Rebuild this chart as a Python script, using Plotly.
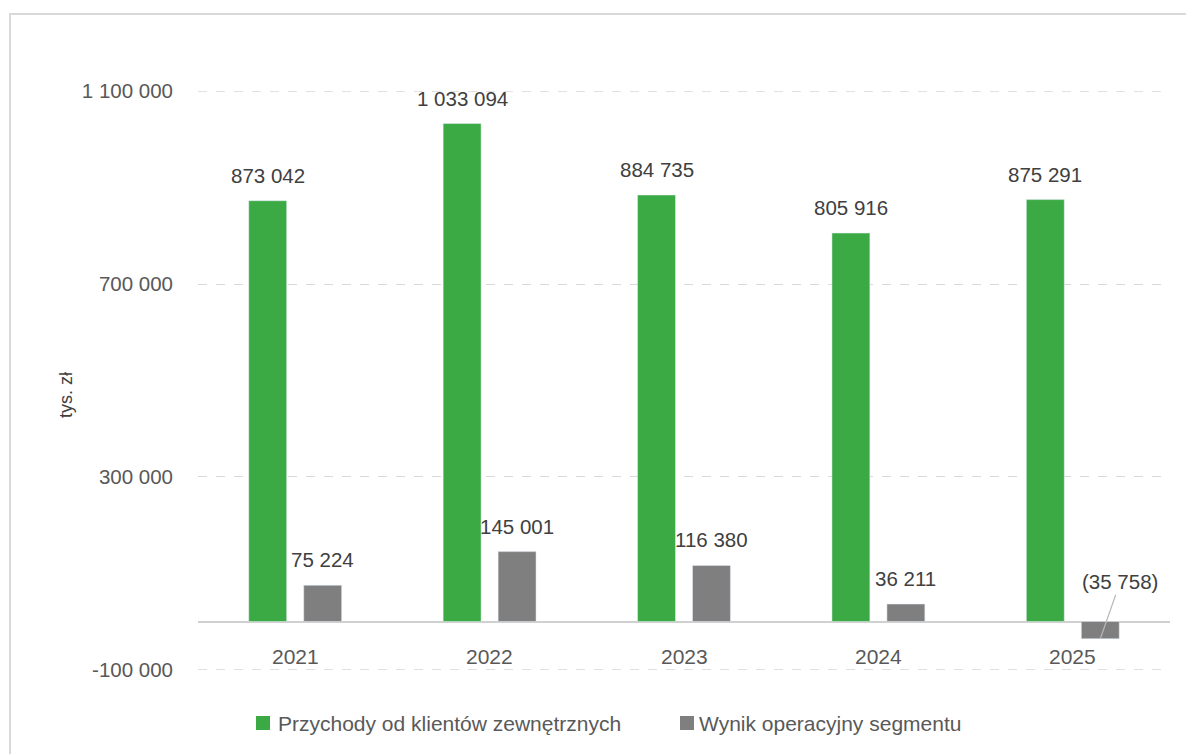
import plotly.graph_objects as go

years = ["2021", "2022", "2023", "2024", "2025"]
revenue = [873042, 1033094, 884735, 805916, 875291]
op_result = [75224, 145001, 116380, 36211, -35758]
series_names = ["Przychody od klientów zewnętrznych", "Wynik operacyjny segmentu"]
y_ticks = [-100000, 300000, 700000, 1100000]

GREEN = "#3BAA44"
GRAY = "#7F7F7F"
TXT = "#404040"
TICK = "#595959"
GRID = "#D9D9D9"
FONT = "Liberation Sans, Arial, sans-serif"

def fmt(v):
    s = f"{abs(v):,}".replace(",", " ")
    return f"({s})" if v < 0 else s

W, H = 1186, 754
ML, MR, MT, MB = 198, 16, 91, 84
PW, PH = W - ML - MR, H - MT - MB

def px(x):
    return (x - ML) / PW

def py(y):
    return (MT + PH - y) / PH

bw = 0.195
off = 0.1414

fig = go.Figure()
xi = list(range(len(years)))
fig.add_trace(go.Bar(x=xi, y=revenue, name=series_names[0], marker_color=GREEN,
                     width=bw, offset=-off - bw / 2, hoverinfo="y", showlegend=False))
fig.add_trace(go.Bar(x=xi, y=op_result, name=series_names[1], marker_color=GRAY,
                     width=bw, offset=off - bw / 2, hoverinfo="y", showlegend=False))

lab_font = dict(size=20.5, color=TXT, family=FONT)
ann = []
for i, (r, o) in enumerate(zip(revenue, op_result)):
    ann.append(dict(x=i - off, y=r, xref="x", yref="y", text=fmt(r), showarrow=False,
                    yanchor="bottom", yshift=12, font=lab_font))
    if o >= 0:
        ann.append(dict(x=i + off, y=o, xref="x", yref="y", text=fmt(o), showarrow=False,
                        yanchor="bottom", yshift=12, font=lab_font))
    else:
        ann.append(dict(x=i + off, y=o, xref="x", yref="y", text=fmt(o), showarrow=True,
                        arrowhead=0, arrowwidth=1.2, arrowcolor="#B8B8B8", ax=20, ay=-57,
                        font=lab_font))
    ann.append(dict(x=i, y=0, xref="x", yref="y", text=years[i], showarrow=False,
                    yanchor="top", yshift=-21, font=dict(size=21, color=TICK, family=FONT)))

ann.append(dict(x=px(66), y=py(395), xref="paper", yref="paper", xanchor="center",
                yanchor="middle", text="tys. zł", textangle=-90, showarrow=False,
                font=dict(size=18, color=TXT, family=FONT)))

shapes = [dict(type="rect", xref="paper", yref="paper",
               x0=px(10), x1=px(W + 5), y0=py(H + 5), y1=py(14),
               line=dict(color=GRID, width=2), layer="below")]
# gridlines at the range ends (plotly omits them at the plot edges)
for v in (y_ticks[0], y_ticks[-1]):
    shapes.append(dict(type="line", xref="paper", yref="y", x0=0, x1=1, y0=v, y1=v,
                       line=dict(color=GRID, width=1, dash="dash"), layer="below"))

# manual legend
leg = [(256, 276, GREEN, series_names[0]), (680, 697, GRAY, series_names[1])]
for sx, tx, col, name in leg:
    shapes.append(dict(type="rect", xref="paper", yref="paper",
                       x0=px(sx), x1=px(sx + 14), y0=py(730), y1=py(716),
                       fillcolor=col, line=dict(width=0)))
    ann.append(dict(x=px(tx), y=py(723), xref="paper", yref="paper", xanchor="left",
                    yanchor="middle", text=name, showarrow=False,
                    font=dict(size=21, color=TICK, family=FONT)))

fig.update_layout(
    width=W, height=H,
    margin=dict(l=ML, r=MR, t=MT, b=MB),
    paper_bgcolor="white", plot_bgcolor="white",
    barmode="overlay",
    showlegend=False,
    xaxis=dict(range=[-0.5, len(years) - 0.5], showticklabels=False, showgrid=False,
               zeroline=False, showline=False, fixedrange=True),
    yaxis=dict(range=[-100600, 1100600], tickvals=y_ticks,
               ticktext=[fmt(v) if v >= 0 else "-" + fmt(-v) for v in y_ticks],
               showgrid=True, gridcolor=GRID, griddash="dash", gridwidth=1,
               zeroline=True, zerolinecolor="#D0D0D0", zerolinewidth=2,
               showline=False, ticks="", ticklabelstandoff=24,
               tickfont=dict(size=20.5, color=TICK, family=FONT)),
    annotations=ann,
    shapes=shapes,
)

fig.write_html("out.html")
